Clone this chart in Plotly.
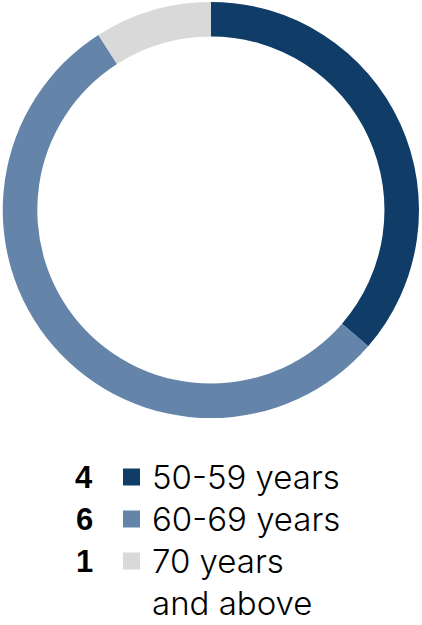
import plotly.graph_objects as go

# Data
categories = ["50-59 years", "60-69 years", "70 years and above"]
values = [4, 6, 1]
display_labels = ["50-59 years", "60-69 years", "70 years<br>and above"]
colors = ["#0f3d68", "#6584aa", "#d9d9d9"]

W, H = 422, 625

fig = go.Figure()
fig.add_trace(go.Pie(
    labels=categories,
    values=values,
    sort=False,
    direction="clockwise",
    rotation=0,
    hole=0.834,
    marker=dict(colors=colors, line=dict(width=0)),
    textinfo="none",
    hoverinfo="none",
    showlegend=False,
    domain=dict(x=[0.0064, 0.993], y=[0.331, 0.997]),
))

def py(ypx):
    return 1 - ypx / H

def px(xpx):
    return xpx / W

row_y0 = 477
pitch = 42
num_right = 95
sq_left, sq_size = 123, 17
label_left = 150
label_font = dict(family="Inter, Liberation Sans, sans-serif", size=33, color="#000000", weight=300)
num_font = dict(family="Liberation Sans, Arial, sans-serif", size=31, color="#000000", weight="bold")

annotations = []
shapes = []
row = 0
for i, (v, lab, col) in enumerate(zip(values, display_labels, colors)):
    yc = row_y0 + row * pitch
    annotations.append(dict(
        x=px(num_right), y=py(yc), xref="paper", yref="paper",
        xanchor="right", yanchor="middle", showarrow=False,
        text=str(v), font=num_font,
    ))
    shapes.append(dict(
        type="rect", xref="paper", yref="paper",
        x0=px(sq_left), x1=px(sq_left + sq_size),
        y0=py(yc - sq_size / 2), y1=py(yc + sq_size / 2),
        fillcolor=col, line=dict(width=0),
    ))
    for line in lab.split("<br>"):
        yl = row_y0 + row * pitch
        annotations.append(dict(
            x=px(label_left), y=py(yl), xref="paper", yref="paper",
            xanchor="left", yanchor="middle", showarrow=False,
            text=line, font=label_font,
        ))
        row += 1

fig.update_layout(
    width=W, height=H,
    margin=dict(l=0, r=0, t=0, b=0),
    paper_bgcolor="white",
    plot_bgcolor="white",
    annotations=annotations,
    shapes=shapes,
)

fig.write_html("out.html", config={"displayModeBar": False},
               post_script="document.body.style.margin='0px';")
